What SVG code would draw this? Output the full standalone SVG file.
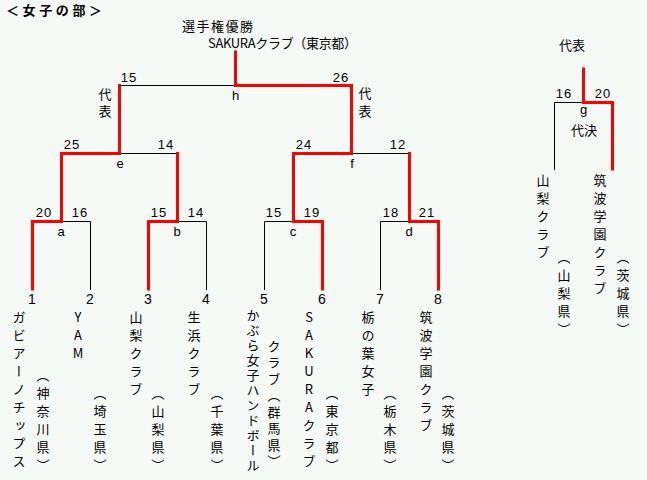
<svg xmlns="http://www.w3.org/2000/svg" width="647" height="480" viewBox="0 0 647 480">
<style>
.jp{font-family:"Noto Sans CJK JP","Noto Sans CJK SC",sans-serif;fill:#000}
.num{font-family:"Liberation Sans","Noto Sans CJK JP",sans-serif;font-size:13px;letter-spacing:1px;text-anchor:middle;fill:#000}
.lbl{font-family:"Liberation Sans","Noto Sans CJK JP",sans-serif;font-size:13px;text-anchor:middle;fill:#000}
.seed{font-family:"Liberation Sans","Noto Sans CJK JP",sans-serif;font-size:14px;text-anchor:middle;fill:#000}
.v{font-family:"Noto Sans CJK JP","Noto Sans CJK SC",sans-serif;font-size:13px;writing-mode:vertical-rl;text-orientation:upright;letter-spacing:5px;fill:#000}
.blk{fill:none;stroke:#000;stroke-width:1}
.red{fill:none;stroke:#ff0000;stroke-width:3;stroke-linejoin:miter;stroke-linecap:square}
</style>
<rect x="0" y="0" width="647" height="480" fill="#f5faf7"/>

<g id="title">
<text class="jp" x="6" y="15" font-size="13" font-weight="bold" textLength="96" lengthAdjust="spacing">＜女子の部＞</text>
</g>

<g id="champion">
<text class="jp" x="182" y="31" font-size="13" textLength="71" lengthAdjust="spacing">選手権優勝</text>
<text class="jp" x="208" y="48" font-size="13" textLength="149" lengthAdjust="spacing">SAKURAクラブ（東京都）</text>
</g>

<g id="connectors">
<path class="blk" d="M32.5 290V221.5H90.5V290M148.5 290V221.5H206.5V290M264.5 290V221.5H322.5V290M380.5 290V221.5H438.5V290"/>
<path class="blk" d="M61.5 221.5V153.5H177.5V221.5M293.5 221.5V153.5H409.5V221.5"/>
<path class="blk" d="M119.5 153.5V85.5H351.5V153.5M235.5 85.5V51"/>
<path class="blk" d="M554.5 170V102.5H612.5V170M583.5 102.5V68"/>
<path class="red" d="M32.5 289V221.5H61.5V153.5H119.5V85.5"/>
<path class="red" d="M148.5 289V221.5H177.5V153.5"/>
<path class="red" d="M322.5 289V221.5H293.5V153.5H351.5V85.5H235.5V52"/>
<path class="red" d="M438.5 289V221.5H409.5V153.5"/>
<path class="red" d="M583.5 69V102.5H612.5V169"/>
</g>

<g id="match-h">
<text class="num" x="129" y="82">15</text>
<text class="num" x="341" y="82">26</text>
<text class="lbl" x="235.5" y="100">h</text>
<text class="v" x="105" y="88" style="letter-spacing:4px">代表</text>
<text class="v" x="365" y="87" style="letter-spacing:5px">代表</text>
</g>
<g id="match-e">
<text class="num" x="72" y="149">25</text>
<text class="num" x="166" y="149">14</text>
<text class="lbl" x="120" y="168">e</text>
</g>
<g id="match-f">
<text class="num" x="304" y="149">24</text>
<text class="num" x="398" y="149">12</text>
<text class="lbl" x="352" y="168">f</text>
</g>
<g id="match-a">
<text class="num" x="44" y="217">20</text>
<text class="num" x="80" y="217">16</text>
<text class="lbl" x="61" y="236">a</text>
</g>
<g id="match-b">
<text class="num" x="159" y="217">15</text>
<text class="num" x="196" y="217">14</text>
<text class="lbl" x="177" y="236">b</text>
</g>
<g id="match-c">
<text class="num" x="274" y="217">15</text>
<text class="num" x="312" y="217">19</text>
<text class="lbl" x="293" y="236">c</text>
</g>
<g id="match-d">
<text class="num" x="391" y="217">18</text>
<text class="num" x="427" y="217">21</text>
<text class="lbl" x="409" y="236">d</text>
</g>

<g id="team-1">
<text class="seed" x="32" y="304">1</text>
<text class="v" x="19" y="310.5">ガビアーノチップス</text>
<text class="v" x="43" y="368.5">（神奈川県）</text>
</g>
<g id="team-2">
<text class="seed" x="90" y="304">2</text>
<text class="v" x="78" y="310.5">YAM</text>
<text class="v" x="100" y="386.5">（埼玉県）</text>
</g>
<g id="team-3">
<text class="seed" x="148" y="304">3</text>
<text class="v" x="136" y="310.5">山梨クラブ</text>
<text class="v" x="158" y="386.5">（山梨県）</text>
</g>
<g id="team-4">
<text class="seed" x="206" y="304">4</text>
<text class="v" x="194" y="310.5">生浜クラブ</text>
<text class="v" x="217" y="386.5">（千葉県）</text>
</g>
<g id="team-5">
<text class="seed" x="264" y="304">5</text>
<text class="v" x="253" y="308.5" style="letter-spacing:2px">かぶら女子ハンドボール</text>
<text class="v" x="274" y="339.5" style="letter-spacing:3.5px">クラブ（群馬県）</text>
</g>
<g id="team-6">
<text class="seed" x="322" y="304">6</text>
<text class="v" x="309" y="310.5">SAKURAクラブ</text>
<text class="v" x="332" y="386.5">（東京都）</text>
</g>
<g id="team-7">
<text class="seed" x="380" y="304">7</text>
<text class="v" x="368" y="310.5">栃の葉女子</text>
<text class="v" x="390" y="386.5">（栃木県）</text>
</g>
<g id="team-8">
<text class="seed" x="438" y="304">8</text>
<text class="v" x="426" y="310.5">筑波学園クラブ</text>
<text class="v" x="448" y="386.5">（茨城県）</text>
</g>

<g id="match-g">
<text class="jp" x="572" y="50" font-size="13" text-anchor="middle">代表</text>
<text class="num" x="564" y="98">16</text>
<text class="num" x="603" y="98">20</text>
<text class="lbl" x="583.5" y="114">g</text>
<text class="jp" x="584" y="135" font-size="13" text-anchor="middle">代決</text>
</g>
<g id="team-g1">
<text class="v" x="543" y="173.5">山梨クラブ</text>
<text class="v" x="564" y="250.5">（山梨県）</text>
</g>
<g id="team-g2">
<text class="v" x="600" y="173.5">筑波学園クラブ</text>
<text class="v" x="623" y="250.5">（茨城県）</text>
</g>
</svg>
